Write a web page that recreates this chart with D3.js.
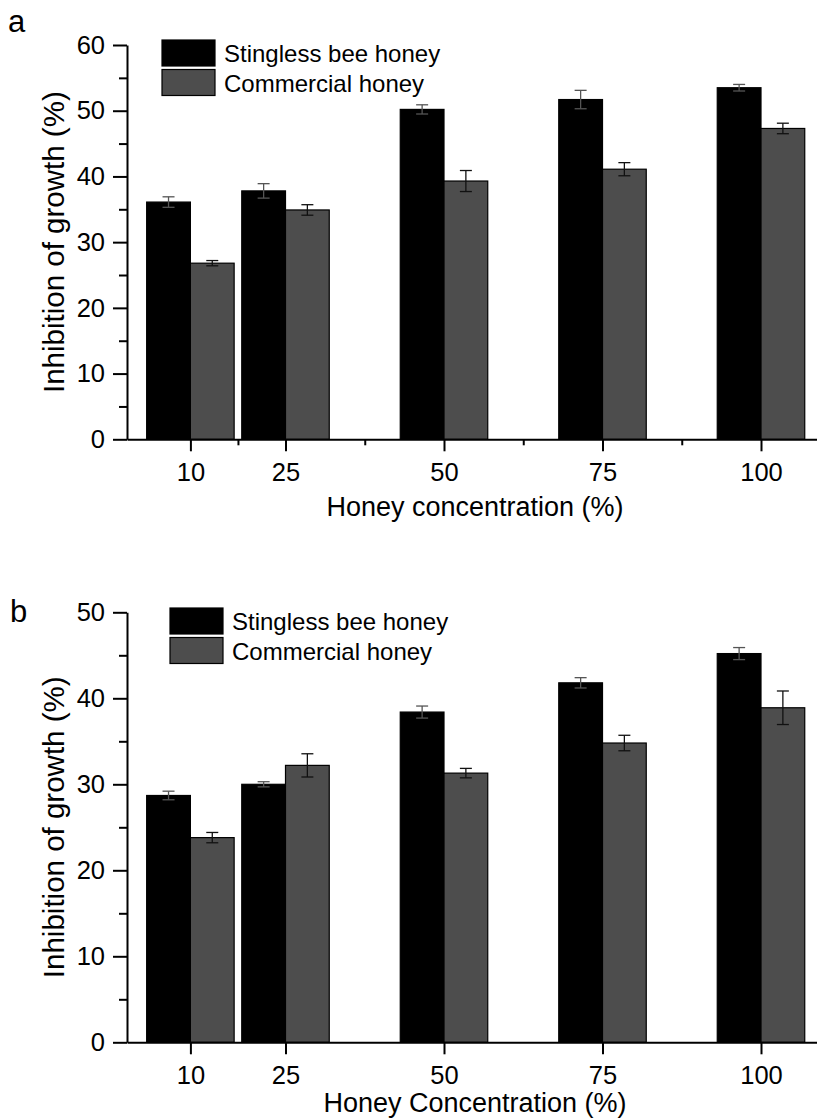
<!DOCTYPE html>
<html>
<head>
<meta charset="utf-8">
<script src="https://cdn.jsdelivr.net/npm/d3@7"></script>
<style>
  body { margin: 0; background: #fff; }
  svg { display: block; font-family: "Liberation Sans", Arial, sans-serif; }
</style>
</head>
<body>
<script>
// DATA
var concentrations = [10, 25, 50, 75, 100];
var seriesNames = ["Stingless bee honey", "Commercial honey"];
var seriesColors = ["#000000", "#4d4d4d"];

var stinglessA = [36.1, 37.8, 50.2, 51.7, 53.5];
var stinglessErrA = [0.8, 1.1, 0.7, 1.4, 0.5];
var commercialA = [26.8, 34.9, 39.3, 41.1, 47.3];
var commercialErrA = [0.4, 0.8, 1.6, 1.0, 0.8];

var stinglessB = [28.7, 30.0, 38.4, 41.8, 45.2];
var stinglessErrB = [0.5, 0.3, 0.7, 0.6, 0.7];
var commercialB = [23.8, 32.2, 31.3, 34.8, 38.9];
var commercialErrB = [0.6, 1.35, 0.55, 0.9, 1.95];

var xMinorTicks = [17.5, 37.5, 62.5, 87.5];
var yTicksA = [0, 10, 20, 30, 40, 50, 60];
var yMinorA = [5, 15, 25, 35, 45, 55];
var yTicksB = [0, 10, 20, 30, 40, 50];
var yMinorB = [5, 15, 25, 35, 45];

//SVG VARIABLES
var width = 817;
var height = 1119;
var svg = d3.select("body").append("svg")
  .attr("width", width)
  .attr("height", height);

var barUnits = 6.9; // bar width in x units

var x = d3.scaleLinear().domain([0, 110]).range([127, 127 + 110 * 6.34]);

function drawPanel(p) {
  var g = svg.append("g");
  var y = d3.scaleLinear().domain([0, p.yMax]).range([p.bottom, p.top]);

  // bars
  var series = [
    {vals: p.s1, errs: p.e1, color: seriesColors[0], offset: -1},
    {vals: p.s2, errs: p.e2, color: seriesColors[1], offset: 0}
  ];
  var bw = x(barUnits) - x(0);
  series.forEach(function(s) {
    var sg = g.append("g");
    sg.selectAll("rect").data(concentrations).enter().append("rect")
      .attr("x", function(d) { return x(d) + s.offset * bw; })
      .attr("y", function(d, i) { return y(s.vals[i]); })
      .attr("width", bw)
      .attr("height", function(d, i) { return y(0) - y(s.vals[i]); })
      .attr("fill", s.color)
      .attr("stroke", "#000")
      .attr("stroke-width", 1.2);
    // error bars
    sg.selectAll("g.err").data(concentrations).enter().append("g")
      .attr("class", "err")
      .each(function(d, i) {
        var cx = x(d) + s.offset * bw + bw / 2;
        var y1 = y(s.vals[i] + s.errs[i]), y2 = y(s.vals[i] - s.errs[i]);
        var eg = d3.select(this);
        var col = s.offset < 0 ? "#555" : "#111";
        eg.append("line").attr("x1", cx).attr("x2", cx).attr("y1", y1).attr("y2", y2)
          .attr("stroke", col).attr("stroke-width", 1.3);
        eg.append("line").attr("x1", cx - 6).attr("x2", cx + 6).attr("y1", y1).attr("y2", y1)
          .attr("stroke", col).attr("stroke-width", 1.3);
        eg.append("line").attr("x1", cx - 6).attr("x2", cx + 6).attr("y1", y2).attr("y2", y2)
          .attr("stroke", col).attr("stroke-width", 1.3);
      });
  });

  // y axis
  g.append("g").attr("transform", "translate(" + x(0) + ",0)")
    .call(d3.axisLeft(y).tickValues(p.yTicks).tickSize(14).tickSizeOuter(0).tickPadding(8));
  g.append("g").attr("transform", "translate(" + x(0) + ",0)")
    .call(d3.axisLeft(y).tickValues(p.yMinor).tickSize(8).tickFormat("").tickSizeOuter(0))
    .select(".domain").remove();

  // x axis
  var xAxis = g.append("g").attr("transform", "translate(0," + p.bottom + ")")
    .call(d3.axisBottom(x).tickValues(concentrations).tickSize(12).tickSizeOuter(0).tickPadding(p.xPad));
  if (p.minorX) {
    g.append("g").attr("transform", "translate(0," + p.bottom + ")")
      .call(d3.axisBottom(x).tickValues(xMinorTicks).tickSize(6).tickFormat("").tickSizeOuter(0))
      .select(".domain").remove();
  }

  g.selectAll(".domain, .tick line").attr("stroke", "#000").attr("stroke-width", 2);
  g.selectAll(".tick text").attr("font-size", "25.5px").attr("fill", "#000")
    .attr("font-family", "'Liberation Sans', Arial, sans-serif");
  xAxis.selectAll(".tick text").attr("dy", "0.71em");

  // axis titles
  g.append("text")
    .attr("x", 475).attr("y", p.xTitleY)
    .attr("text-anchor", "middle")
    .attr("font-size", "27px")
    .text(p.xTitle);
  g.append("text")
    .attr("transform", "translate(64," + ((p.top + p.bottom) / 2) + ") rotate(-90)")
    .attr("text-anchor", "middle")
    .attr("font-size", "29.5px")
    .text("Inhibition of growth (%)");

  // panel label
  g.append("text").attr("x", p.labelX).attr("y", p.labelY)
    .attr("font-size", "31px").text(p.label);

  // legend
  var lg = g.append("g");
  seriesNames.forEach(function(n, i) {
    lg.append("rect")
      .attr("x", p.legX).attr("y", p.legY + i * 29.5)
      .attr("width", 53).attr("height", 26)
      .attr("fill", seriesColors[i]).attr("stroke", "#000").attr("stroke-width", 1.2);
    lg.append("text")
      .attr("x", p.legX + 62).attr("y", p.legY + i * 29.5 + 22)
      .attr("font-size", "24px").text(n);
  });
}

drawPanel({
  s1: stinglessA, e1: stinglessErrA, s2: commercialA, e2: commercialErrA,
  yMax: 60, top: 45, bottom: 439.3, yTicks: yTicksA, yMinor: yMinorA,
  minorX: true, xPad: 12, xTitle: "Honey concentration (%)", xTitleY: 516,
  label: "a", labelX: 8, labelY: 32, legX: 162, legY: 40
});

drawPanel({
  s1: stinglessB, e1: stinglessErrB, s2: commercialB, e2: commercialErrB,
  yMax: 50, top: 612.3, bottom: 1042.3, yTicks: yTicksB, yMinor: yMinorB,
  minorX: false, xPad: 12, xTitle: "Honey Concentration (%)", xTitleY: 1111.5,
  label: "b", labelX: 10, labelY: 621.5, legX: 170, legY: 608
});
</script>
</body>
</html>
